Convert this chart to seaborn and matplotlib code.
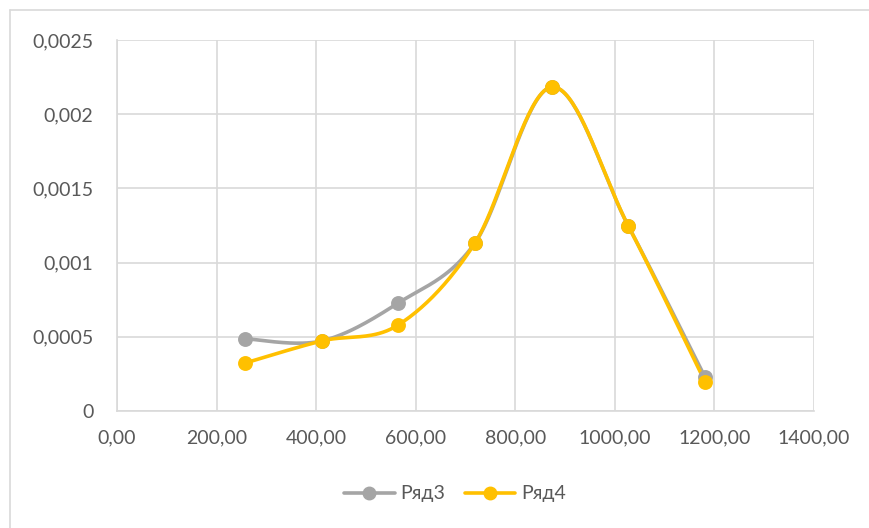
import numpy as np
import pandas as pd
import matplotlib
matplotlib.use("Agg")
import matplotlib.pyplot as plt
import seaborn as sns
from matplotlib.lines import Line2D

x_vals = [257, 411, 565, 719, 873, 1027, 1181]
ryad3 = [0.000487, 0.000472, 0.000728, 0.001132, 0.002183, 0.001247, 0.000229]
ryad4 = [0.000323, 0.000472, 0.000580, 0.001132, 0.002183, 0.001247, 0.000198]
series_names = ["Ряд3", "Ряд4"]
colors = ["#A5A5A5", "#FFC000"]
x_ticks = [0, 200, 400, 600, 800, 1000, 1200, 1400]
y_ticks = [0, 0.0005, 0.001, 0.0015, 0.002, 0.0025]
y_tick_labels = ["0", "0,0005", "0,001", "0,0015", "0,002", "0,0025"]

sns.set_theme(style="white")
plt.rcParams['font.family'] = ['Lato', 'DejaVu Sans']

fig = plt.figure(figsize=(8.69, 5.28), dpi=100)
ax = fig.add_axes([117/869, 1-411/528, (814-117)/869, (411-40)/528])

XMAX, YMAX = 1400, 0.0025
W, H = 697, 371


def smooth(xs, ys, n=40):
    # Excel-like Bezier smoothing computed in pixel space
    px = np.array(xs) / XMAX * W
    py = np.array(ys) / YMAX * H
    P = np.column_stack([px, py])
    out = []
    for i in range(len(P) - 1):
        p0 = P[i - 1] if i > 0 else P[i]
        p1 = P[i]
        p2 = P[i + 1]
        p3 = P[i + 2] if i + 2 < len(P) else P[i + 1]
        c1 = p1 + (p2 - p0) / 6
        c2 = p2 - (p3 - p1) / 6
        t = np.linspace(0, 1, n, endpoint=(i == len(P) - 2))[:, None]
        b = (1 - t) ** 3 * p1 + 3 * (1 - t) ** 2 * t * c1 + 3 * (1 - t) * t ** 2 * c2 + t ** 3 * p2
        out.append(b)
    B = np.vstack(out)
    return B[:, 0] / W * XMAX, B[:, 1] / H * YMAX


for name, ys, col in zip(series_names, [ryad3, ryad4], colors):
    sx, sy = smooth(x_vals, ys)
    df_curve = pd.DataFrame({"x": sx, "y": sy})
    sns.lineplot(data=df_curve, x="x", y="y", ax=ax, color=col, linewidth=2.6,
                 sort=False, estimator=None, zorder=3)
    df_pts = pd.DataFrame({"x": x_vals, "y": ys})
    sns.scatterplot(data=df_pts, x="x", y="y", ax=ax, color=col, s=115,
                    edgecolor=col, linewidth=0, zorder=4)

ax.set_xlim(0, XMAX)
ax.set_ylim(0, YMAX)
ax.set_xticks(x_ticks)
ax.set_xticklabels([f"{v:.2f}".replace(".", ",") for v in x_ticks])
ax.set_yticks(y_ticks)
ax.set_yticklabels(y_tick_labels)
ax.grid(True, color="#D9D9D9", linewidth=1.2)
ax.set_axisbelow(True)
for s in ["top", "right"]:
    ax.spines[s].set_visible(False)
ax.spines["left"].set_color("#D9D9D9")
ax.spines["bottom"].set_color("#D9D9D9")
ax.spines["left"].set_linewidth(1.2)
ax.spines["bottom"].set_linewidth(1.2)
ax.tick_params(axis="both", labelsize=14, colors="#595959", length=0)
ax.tick_params(axis="y", pad=17)
ax.tick_params(axis="x", pad=13)
ax.set_xlabel("")
ax.set_ylabel("")

handles = [Line2D([0], [0], color=c, lw=2.6, marker="o", markersize=9) for c in colors]
fig.legend(handles, series_names, loc="center", bbox_to_anchor=(455/869, 1-494/528),
           ncol=2, frameon=False, fontsize=14, labelcolor="#595959",
           handlelength=2.6, columnspacing=1.0, handletextpad=0.3)

# outer chart frame (partially visible)
fig.add_artist(Line2D([10/869, 10/869], [0, 1-10/528], transform=fig.transFigure,
                      color="#D9D9D9", lw=1.2))
fig.add_artist(Line2D([10/869, 1], [1-10/528, 1-10/528], transform=fig.transFigure,
                      color="#D9D9D9", lw=1.2))

fig.savefig("out.png", dpi=100, facecolor="white")
